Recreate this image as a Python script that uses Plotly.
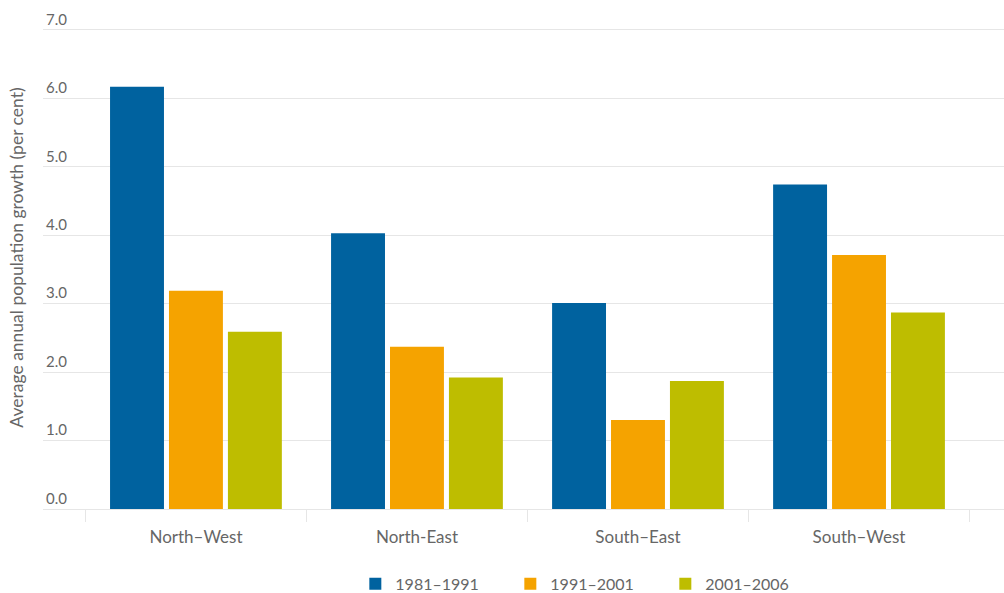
import plotly.graph_objects as go

categories = ["North–West", "North-East", "South–East", "South–West"]
series_names = ["1981–1991", "1991–2001", "2001–2006"]
s1981_1991 = [6.17, 4.03, 3.01, 4.74]
s1991_2001 = [3.19, 2.37, 1.30, 3.71]
s2001_2006 = [2.59, 1.92, 1.87, 2.87]
colors = ["#00629f", "#f5a300", "#bebd00"]
y_ticks = [0, 1, 2, 3, 4, 5, 6, 7]
y_ticklabels = ["0.0", "1.0", "2.0", "3.0", "4.0", "5.0", "6.0", "7.0"]

FONT = "Lato, 'Open Sans', sans-serif"
fig = go.Figure()
for name, vals, col in zip(series_names, [s1981_1991, s1991_2001, s2001_2006], colors):
    fig.add_trace(go.Bar(x=categories, y=vals, name=name, marker=dict(color=col, line=dict(width=0))))

fig.update_layout(
    width=1004, height=593,
    margin=dict(l=43, r=0, t=6, b=84, autoexpand=False),
    paper_bgcolor="white", plot_bgcolor="white",
    barmode="group", bargap=0.2, bargroupgap=0.085,
    font=dict(family=FONT, size=15, color="#666666"),
    showlegend=True,
    legend=dict(orientation="h", x=0.325, xanchor="left", y=-0.149, yanchor="middle",
                font=dict(size=16, color="#666666"), entrywidth=110, entrywidthmode="pixels",
                bgcolor="rgba(0,0,0,0)"),
    xaxis=dict(range=[-0.692, 3.656], showgrid=False, showline=True, linecolor="#e6e6e6", linewidth=1,
               ticks="outside", tickson="boundaries", ticklen=12, tickcolor="#e6e6e6", tickwidth=1,
               ticklabelstandoff=13,
               tickfont=dict(size=17, color="#666666"), zeroline=False),
    yaxis=dict(range=[0, 7.35], tickvals=y_ticks, ticktext=y_ticklabels, showgrid=True, gridcolor="#e6e6e6",
               gridwidth=1, zeroline=False, ticklabelposition="inside top", ticks="",
               tickfont=dict(size=15, color="#666666"),
               title=dict(text="Average annual population growth (per cent)", standoff=17,
                          font=dict(size=17.5, color="#666666"))),
)
fig.write_html("out.html", post_script="document.body.style.margin='0';",
               config={"displayModeBar": False})
